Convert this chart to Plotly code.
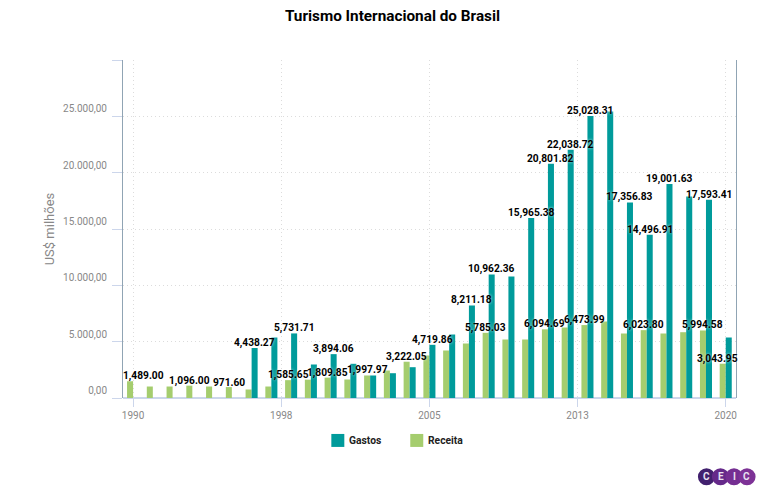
import plotly.graph_objects as go

W, H = 781, 499
years = list(range(1990, 2021))
gastos = [None, None, None, None, None, None, 4438.27, 5370, 5731.71, 2973, 3894.06, 3035, 1997.97, 2200, 2735,
          4719.86, 5636, 8211.18, 10962.36, 10784, 15965.38, 20801.82, 22038.72, 25028.31, 25430,
          17356.83, 14496.91, 19001.63, 17885, 17593.41, 5370]
receita = [1489.00, 1020, 1020, 1096.00, 1020, 971.60, 754, 1020, 1585.65, 1628, 1809.85, 1642, 1997.97, 2441, 3222.05,
           3772, 4216, 4837, 5785.03, 5192, 5192, 6094.69, 6258, 6473.99, 6790,
           5725, 6023.80, 5725, 5840, 5994.58, 3043.95]
gastos_labels = [1996, 1998, 2000, 2005, 2007, 2008, 2010, 2011, 2012, 2013, 2015, 2016, 2017, 2019]
receita_labels = [1990, 1993, 1995, 1998, 2000, 2002, 2004, 2008, 2011, 2013, 2016, 2019, 2020]
tick_pos = [1990, 1997.5, 2005, 2012.5, 2020]
tick_text = ["1990", "1998", "2005", "2013", "2020"]
y_ticks = [0, 5000, 10000, 15000, 20000, 25000, 30000]
y_text = ["0,00", "5.000,00", "10.000,00", "15.000,00", "20.000,00", "25.000,00", ""]
TEAL, GREEN = "#009b9b", "#a5cd6e"
L, R, T, B = 122.5, 736, 59.5, 398

fig = go.Figure()
fig.add_bar(x=years, y=receita, name="Receita", marker_color=GREEN, marker_line_width=0)
fig.add_bar(x=years, y=gastos, name="Gastos", marker_color=TEAL, marker_line_width=0)

def px(x): return (x - L) / (R - L)
def py(y): return (B - y) / (B - T)

annotations = []
def label(year, value, shift):
    annotations.append(dict(x=year, y=value, xref="x", yref="y", text=f"{value:,.2f}", showarrow=False,
                            yanchor="bottom", xshift=shift, yshift=-3,
                            font=dict(family="Roboto", size=10.2, color="#000", weight="bold",
                                      shadow="0 0 3px rgba(255,255,255,0.85)")))
for yr in gastos_labels:
    label(yr, gastos[years.index(yr)], 3)
edge = {1990: 10, 2020: -8}
for yr in receita_labels:
    label(yr, receita[years.index(yr)], edge.get(yr, -3))

shapes = []
for x0, color, name in [(331, TEAL, "Gastos"), (410, GREEN, "Receita")]:
    shapes.append(dict(type="rect", xref="paper", yref="paper", x0=px(x0), x1=px(x0 + 13), y0=py(447), y1=py(434),
                       fillcolor=color, line_width=0))
    annotations.append(dict(xref="paper", yref="paper", x=px(x0 + 15.5), y=py(440.5), text=name, showarrow=False,
                            xanchor="left", yanchor="middle",
                            font=dict(family="Roboto", size=10.3, color="#222", weight="bold")))
for cx, color, ch in [(706.5, "#41206e", "C"), (720.5, "#65298a", "E"), (734, "#752e92", "I"), (747, "#7d3296", "C")]:
    shapes.append(dict(type="circle", xref="paper", yref="paper", x0=px(cx - 8.6), x1=px(cx + 8.6),
                       y0=py(485.5), y1=py(468.3), fillcolor=color, line_width=0))
    annotations.append(dict(xref="paper", yref="paper", x=px(cx), y=py(477), text=ch, showarrow=False,
                            xanchor="center", yanchor="middle",
                            font=dict(family="Roboto", size=10, color="#e8e0f0", weight="bold")))

fig.update_layout(
    width=W, height=H, autosize=False, paper_bgcolor="white", plot_bgcolor="white",
    margin=dict(l=L, r=W - R, t=T, b=H - B), barmode="group", bargap=0.39, bargroupgap=0,
    showlegend=False, annotations=annotations, shapes=shapes,
    title=dict(text="Turismo Internacional do Brasil", x=392.5 / W, xanchor="center", y=1 - 10 / H, yanchor="top",
               font=dict(family="Roboto", size=15.3, color="#000", weight="bold")),
    xaxis=dict(range=[1989.49, 2020.52], tickvals=tick_pos, ticktext=tick_text, ticks="outside", ticklen=8,
               tickcolor="#ccd6eb", showgrid=True, gridcolor="#dcdcdc", griddash="1px,3px", gridwidth=1,
               showline=False, zeroline=False, tickfont=dict(family="Roboto", size=10, color="#888")),
    yaxis=dict(range=[0, 30000], tickvals=y_ticks, ticktext=y_text, ticks="outside", ticklen=10, tickcolor="#ccd6eb",
               showgrid=True, gridcolor="#dcdcdc", griddash="1px,3px", gridwidth=1, mirror=True,
               showline=True, linecolor="#90a4b4", linewidth=1, zeroline=True, zerolinecolor="#ccd6eb", zerolinewidth=2,
               tickfont=dict(family="Roboto", size=10, color="#888"), ticklabelstandoff=13,
               ticklabelposition="outside top",
               title=dict(text="US$ milhões", standoff=5, font=dict(family="Roboto", size=13, color="#888"))),
)
fig.write_html("out.html", config={"displayModeBar": False},
               post_script="document.body.style.margin='0';document.body.style.overflow='hidden';")
